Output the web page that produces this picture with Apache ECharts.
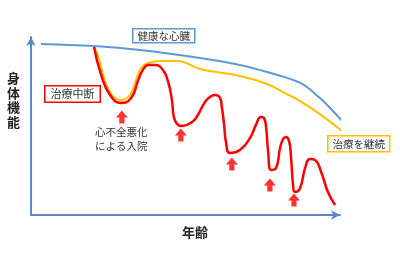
<!DOCTYPE html>
<html>
<head>
<meta charset="UTF-8">
<title>身体機能と年齢</title>
<script src="https://cdn.jsdelivr.net/npm/echarts@6/dist/echarts.min.js"></script>
<style>
    html, body { margin: 0; padding: 0; background: #fff; }
    #main { width: 400px; height: 256px; }
</style>
</head>
<body>
<div id="main"></div>
<script>
    // 年齢 (0-100) / 身体機能 (0-100)
    const healthyX = [3.2, 20.4, 35.3, 54.7, 67.6, 76.4, 87.1, 93.5, 96.8, 101.0];
    const healthyY = [96.1, 94.9, 92.7, 88.2, 84.3, 80.3, 74.2, 65.7, 60.1, 52.2];

    const continueX = [20.4, 21.7, 24.9, 28.8, 32.0, 34.0, 35.6, 37.9, 42.1, 47.6, 54.7, 67.6, 76.4, 82.2, 87.1, 93.5, 100.6];
    const continueY = [94.4, 89.3, 71.3, 64.6, 67.4, 75.8, 82.6, 85.4, 86.5, 86.5, 82.0, 78.1, 73.6, 68.5, 64.0, 56.7, 47.2];

    const stopX = [20.4, 22.7, 25.6, 29.1, 32.4, 34.6, 36.2, 37.9, 40.1, 42.7, 44.3, 45.6, 46.3, 47.6, 48.9, 52.1, 54.0,
        56.3, 57.9, 59.5, 61.2, 61.8, 62.5, 63.1, 64.4, 67.6, 70.9, 72.8, 74.4, 75.4, 76.1, 76.7, 77.7, 79.3,
        80.6, 81.6, 82.5, 83.5, 84.1, 84.8, 85.4, 87.1, 88.7, 90.3, 91.9, 93.9, 96.1, 98.4];
    const stopY = [94.4, 78.7, 67.4, 62.9, 65.7, 75.3, 81.5, 84.3, 84.3, 81.5, 75.3, 64.6, 54.5, 50.6, 50.0, 52.2, 56.2,
        63.5, 66.3, 67.4, 65.7, 60.1, 50.6, 41.0, 34.8, 36.5, 43.3, 50.6, 55.1, 54.5, 48.9, 36.5, 25.3, 26.4,
        37.6, 42.7, 43.8, 41.6, 33.7, 16.9, 12.9, 15.2, 26.4, 31.5, 30.9, 24.2, 12.9, 5.6];

    // 入院 arrows
    const admitX = [29.4, 48.5, 65.0, 77.3, 85.1];
    const admitY = [55.1, 44.9, 28.7, 16.9, 8.4];

    const zip = (xs, ys) => xs.map((x, i) => [x, ys[i]]);

    const axisColor = '#5a86c8';
    const jp = '"Noto Sans CJK JP", "Noto Sans", sans-serif';

    let chart = echarts.init(document.getElementById('main'), null, { renderer: 'canvas' });

    let option = {
        animation: false,
        backgroundColor: '#fff',
        grid: { left: 31, top: 37, width: 309, height: 178 },
        xAxis: {
            type: 'value', min: 0, max: 100,
            axisLine: { show: true, symbol: ['none', 'arrow'], symbolSize: [7, 9], lineStyle: { color: axisColor, width: 2 } },
            axisTick: { show: false }, axisLabel: { show: false }, splitLine: { show: false }
        },
        yAxis: {
            type: 'value', min: 0, max: 100,
            axisLine: { show: true, symbol: ['none', 'arrow'], symbolSize: [7, 9], lineStyle: { color: axisColor, width: 2 } },
            axisTick: { show: false }, axisLabel: { show: false }, splitLine: { show: false }
        },
        series: [
            {
                name: '健康な心臓', type: 'line', data: zip(healthyX, healthyY),
                smooth: 0.4, symbol: 'none', clip: false,
                lineStyle: { color: '#5b9bd5', width: 2 }, z: 2
            },
            {
                name: '治療を継続', type: 'line', data: zip(continueX, continueY),
                smooth: 0.4, symbol: 'none', clip: false,
                lineStyle: { color: '#ffc000', width: 2 }, z: 3
            },
            {
                name: '治療中断', type: 'line', data: zip(stopX, stopY),
                smooth: 0.5, symbol: 'none', clip: false,
                lineStyle: { color: '#ff0000', width: 2.5 }, z: 4
            },
            {
                name: '入院', type: 'scatter', data: zip(admitX, admitY),
                symbol: 'path://M6,0L12,7L8.6,7L8.6,13L3.4,13L3.4,7L0,7Z',
                symbolSize: [12, 13],
                itemStyle: { color: '#ff0000' }, z: 5
            }
        ],
        graphic: [
            // axis names
            { type: 'text', left: 7, top: 71, style: { text: '身\n体\n機\n能', font: 'bold 13px ' + jp, fill: '#222', lineHeight: 14.5 } },
            { type: 'text', left: 182, top: 226, style: { text: '年齢', font: 'bold 13px ' + jp, fill: '#222' } },
            // boxed labels
            { type: 'text', left: 132, top: 28, style: { text: '健康な心臓', font: '10.5px ' + jp, fill: '#333', backgroundColor: '#fff', borderColor: '#5b9bd5', borderWidth: 1.5, padding: [1, 4, 1, 4] } },
            { type: 'text', left: 44, top: 85, style: { text: '治療中断', font: '11px ' + jp, fill: '#333', backgroundColor: '#fff', borderColor: '#ff0000', borderWidth: 1.5, padding: [2, 5, 2, 5] } },
            { type: 'text', left: 327, top: 135, style: { text: '治療を継続', font: '10.5px ' + jp, fill: '#333', backgroundColor: '#fff', borderColor: '#ffc000', borderWidth: 1.5, padding: [2, 4, 2, 4] } },
            // annotation
            { type: 'text', left: 95, top: 125, style: { text: '心不全悪化\nによる入院', font: '10.5px ' + jp, fill: '#333', align: 'center', lineHeight: 14 } }
        ]
    };

    chart.setOption(option);
</script>
</body>
</html>
